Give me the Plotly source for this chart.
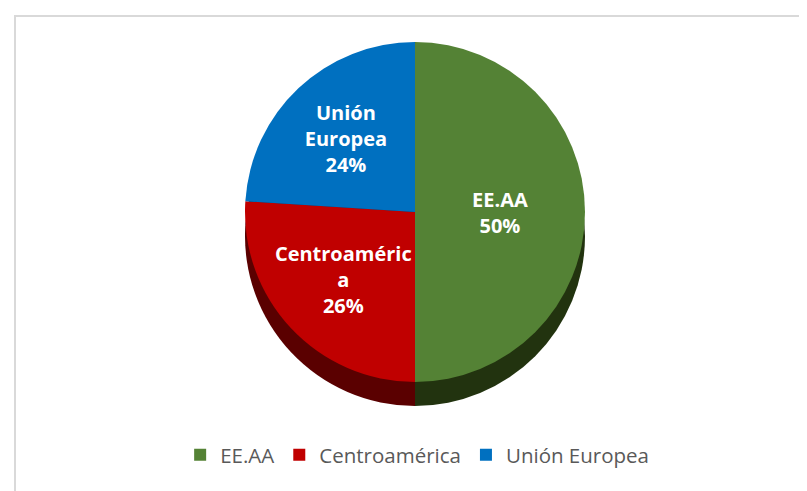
import plotly.graph_objects as go

labels = ["EE.AA", "Centroamérica", "Unión Europea"]
values = [50, 26, 24]
slice_text = ["EE.AA", "Centroaméric<br>a", "Unión<br>Europea"]
colors = ["#548235", "#C00000", "#0070C0"]
side_colors = ["#22330F", "#5A0000", "#003A66"]

W, H = 807, 491

def px_x(p):
    return p / W

def px_y(p):
    return 1 - p / H

cx, r = 407, 170
top_y0, depth = 34, 24

fig = go.Figure()

# darker "side" of the pie (depth effect)
fig.add_trace(go.Pie(
    labels=labels, values=values, sort=False, direction="clockwise", rotation=0,
    marker=dict(colors=side_colors, line=dict(width=0)),
    textinfo="none", hoverinfo="skip", showlegend=False,
    domain=dict(x=[px_x(cx - r), px_x(cx + r)],
                y=[px_y(top_y0 + depth + 2 * r), px_y(top_y0 + depth)]),
))

fig.add_trace(go.Pie(
    labels=labels, values=values, sort=False, direction="clockwise", rotation=0,
    marker=dict(colors=colors, line=dict(width=0)),
    text=slice_text,
    texttemplate="%{text}<br>%{percent:.0%}",
    textposition="inside", insidetextorientation="horizontal",
    textfont=dict(color="white", size=20, family="Open Sans", weight="bold"),
    domain=dict(x=[px_x(cx - r), px_x(cx + r)],
                y=[px_y(top_y0 + 2 * r), px_y(top_y0)]),
))

fig.update_layout(
    width=W, height=H,
    margin=dict(l=0, r=0, t=0, b=0),
    paper_bgcolor="white", plot_bgcolor="white",
    uniformtext=dict(minsize=20, mode="show"),
    legend=dict(orientation="h", x=0.507, xanchor="center", y=px_y(447), yanchor="middle",
                font=dict(family="Open Sans", size=20.5, color="#595959"),
                itemwidth=30, traceorder="normal"),
    shapes=[
        dict(type="line", xref="paper", yref="paper", x0=px_x(6), x1=1, y0=px_y(8), y1=px_y(8),
             line=dict(color="#D9D9D9", width=2)),
        dict(type="line", xref="paper", yref="paper", x0=px_x(7), x1=px_x(7), y0=px_y(8), y1=0,
             line=dict(color="#D9D9D9", width=2)),
    ],
)

fig.write_html("out.html")
